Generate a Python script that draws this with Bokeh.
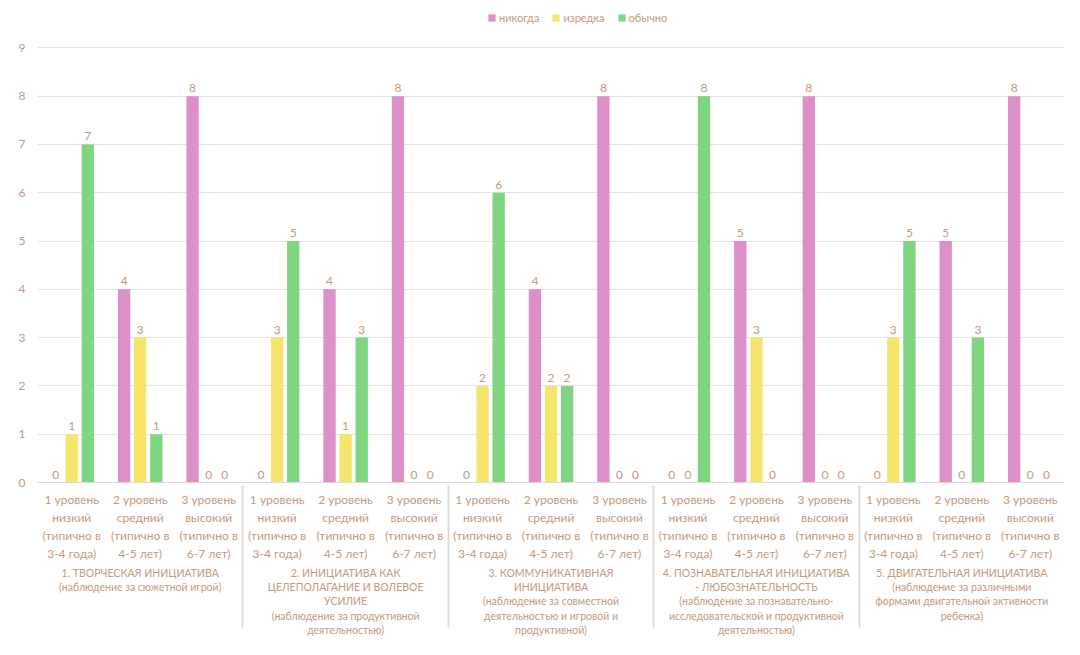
from bokeh.plotting import figure
from bokeh.models import ColumnDataSource, FactorRange, Legend, LegendItem, FixedTicker, Range1d
from bokeh.transform import dodge
from bokeh.core.properties import value
from bokeh.embed import file_html
from bokeh.resources import INLINE

groups = [
    "1. ТВОРЧЕСКАЯ ИНИЦИАТИВА\n(наблюдение за сюжетной игрой)",
    "2. ИНИЦИАТИВА КАК\nЦЕЛЕПОЛАГАНИЕ И ВОЛЕВОЕ\nУСИЛИЕ\n(наблюдение за продуктивной\nдеятельностью)",
    "3. КОММУНИКАТИВНАЯ\nИНИЦИАТИВА\n(наблюдение за совместной\nдеятельностью и игровой и\nпродуктивной)",
    "4. ПОЗНАВАТЕЛЬНАЯ ИНИЦИАТИВА\n- ЛЮБОЗНАТЕЛЬНОСТЬ\n(наблюдение за познавательно-\nисследовательской и продуктивной\nдеятельностью)",
    "5. ДВИГАТЕЛЬНАЯ ИНИЦИАТИВА\n(наблюдение за различными\nформами двигательной активности\nребенка)",
]
levels = [
    "1 уровень\nнизкий\n(типично в\n3-4 года)",
    "2 уровень\nсредний\n(типично в\n4-5 лет)",
    "3 уровень\nвысокий\n(типично в\n6-7 лет)",
]
series_names = ["никогда", "изредка", "обычно"]
never   = [0, 4, 8, 0, 4, 8, 0, 4, 8, 0, 5, 8, 0, 5, 8]
rarely  = [1, 3, 0, 3, 1, 0, 2, 2, 0, 0, 3, 0, 3, 0, 0]
usually = [7, 1, 0, 5, 3, 0, 6, 2, 0, 8, 0, 0, 5, 3, 0]
y_ticks = [0, 1, 2, 3, 4, 5, 6, 7, 8, 9]

colors = ["#dc8fc8", "#f6e46c", "#80d680"]
label_color = "#c29a7e"
FONT = "Lato"

factors = [(g, l) for g in groups for l in levels]
src = ColumnDataSource(dict(
    x=factors,
    never=never, rarely=rarely, usually=usually,
    never_t=[str(v) for v in never],
    rarely_t=[str(v) for v in rarely],
    usually_t=[str(v) for v in usually],
))

xr = FactorRange(*factors, group_padding=0, factor_padding=0, range_padding=0)
p = figure(x_range=xr, y_range=Range1d(0, 9.98), width=1064, height=639,
           output_backend="svg", toolbar_location=None,
           min_border_left=37, min_border_right=0, min_border_top=0,
           min_border_bottom=0)
p.background_fill_color = "white"
p.border_fill_color = "white"
p.outline_line_color = None

offsets = [-0.235, 0.0, 0.235]
cols = ["never", "rarely", "usually"]
renderers = []
for off, c, col in zip(offsets, cols, colors):
    r = p.vbar(x=dodge("x", off, range=xr), top=c, width=0.18, source=src,
               fill_color=col, line_color=None)
    renderers.append(r)
    p.text(x=dodge("x", off, range=xr), y=c, text=c + "_t", source=src,
           text_align="center", text_baseline="bottom", y_offset=-4,
           text_font=value(FONT), text_font_size="12px", text_color=label_color)

legend = Legend(items=[LegendItem(label=n, renderers=[r]) for n, r in zip(series_names, renderers)],
                orientation="horizontal", location=(450, 458),
                label_text_font=FONT, label_text_font_size="11px",
                label_text_color=label_color, glyph_width=9, glyph_height=9,
                label_standoff=3, spacing=12, padding=2, margin=0,
                border_line_color=None, background_fill_alpha=0)
p.add_layout(legend)

p.xgrid.grid_line_color = None
p.ygrid.grid_line_color = "#e6e2e2"
p.ygrid.ticker = FixedTicker(ticks=y_ticks)
p.yaxis.ticker = FixedTicker(ticks=y_ticks)
p.yaxis.axis_line_color = None
p.yaxis.major_tick_line_color = None
p.yaxis.minor_tick_line_color = None
p.yaxis.major_label_text_font = FONT
p.yaxis.major_label_text_font_size = "12px"
p.yaxis.major_label_text_color = label_color
p.yaxis.major_label_standoff = 6

p.xaxis.axis_line_color = "#dcd8d8"
p.xaxis.major_tick_line_color = None
p.xaxis.minor_tick_line_color = None
p.xaxis.major_label_text_font = FONT
p.xaxis.major_label_text_font_size = "12px"
p.xaxis.major_label_text_color = label_color
p.xaxis.group_text_font = FONT
p.xaxis.group_text_font_size = "10.5px"
p.xaxis.group_text_font_style = "normal"
p.xaxis.group_text_color = label_color
p.xaxis.major_label_orientation = "horizontal"
p.xaxis.group_label_orientation = "horizontal"
p.xaxis.separator_line_color = "#e0dcdc"
p.xaxis.major_label_standoff = 3

open("out.html", "w").write(file_html(p, INLINE))
